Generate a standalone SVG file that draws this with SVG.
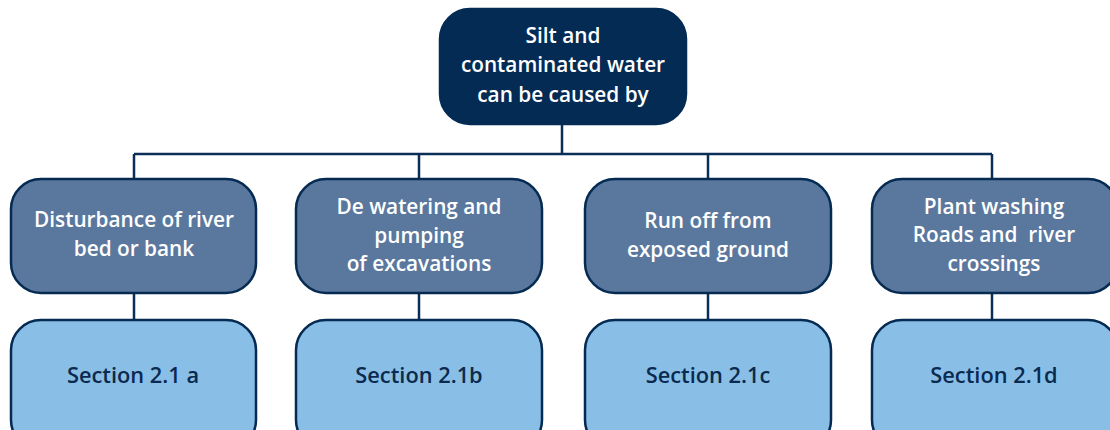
<svg xmlns="http://www.w3.org/2000/svg" width="1110" height="430" viewBox="0 0 1110 430">
<style>
.conn{stroke:#0b2e57;stroke-width:2.5;fill:none}
.top{fill:#042b54;stroke:#042b54;stroke-width:2.5}
.mid{fill:#5a789e;stroke:#062b52;stroke-width:2.5}
.bot{fill:#89bfe7;stroke:#062b52;stroke-width:2.5}
text{font-family:"Open Sans","Noto Sans","Liberation Sans",sans-serif;font-size:20.8px;font-weight:600;text-anchor:middle;dominant-baseline:central}
.w{fill:#ffffff}
.d{fill:#0b2a4f;font-size:21.8px}
</style>
<rect width="1110" height="430" fill="#ffffff"/>
<g id="connectors">
<path class="conn" d="M562,124 V154 M134,154 H992 M134,154 V179 M419,154 V179 M708,154 V179 M992,154 V179"/>
<path class="conn" d="M134,293 V320 M419,293 V320 M708,293 V320 M992,293 V320"/>
</g>
<g id="root">
<rect class="top" x="440" y="9" width="246" height="115" rx="30"/>
<text class="w" x="563" y="35">Silt and</text>
<text class="w" x="563" y="64">contaminated water</text>
<text class="w" x="563" y="94">can be caused by</text>
</g>
<g id="cause1">
<rect class="mid" x="11" y="179" width="245" height="114" rx="30"/>
<text class="w" x="134" y="219">Disturbance of river</text>
<text class="w" x="134" y="248">bed or bank</text>
</g>
<g id="cause2">
<rect class="mid" x="296" y="179" width="246" height="114" rx="30"/>
<text class="w" x="419" y="206">De watering and</text>
<text class="w" x="419" y="235">pumping</text>
<text class="w" x="419" y="263">of excavations</text>
</g>
<g id="cause3">
<rect class="mid" x="585" y="179" width="246" height="114" rx="30"/>
<text class="w" x="708" y="220">Run off from</text>
<text class="w" x="708" y="249">exposed ground</text>
</g>
<g id="cause4">
<rect class="mid" x="872" y="179" width="246" height="114" rx="30"/>
<text class="w" x="994" y="206">Plant washing</text>
<text class="w" x="994" y="234" xml:space="preserve">Roads and  river</text>
<text class="w" x="994" y="263">crossings</text>
</g>
<g id="section1">
<rect class="bot" x="11" y="320" width="245" height="130" rx="30"/>
<text class="d" x="133" y="374">Section 2.1 a</text>
</g>
<g id="section2">
<rect class="bot" x="296" y="320" width="246" height="130" rx="30"/>
<text class="d" x="419" y="374">Section 2.1b</text>
</g>
<g id="section3">
<rect class="bot" x="585" y="320" width="246" height="130" rx="30"/>
<text class="d" x="708" y="374">Section 2.1c</text>
</g>
<g id="section4">
<rect class="bot" x="872" y="320" width="246" height="130" rx="30"/>
<text class="d" x="994" y="374">Section 2.1d</text>
</g>
</svg>
